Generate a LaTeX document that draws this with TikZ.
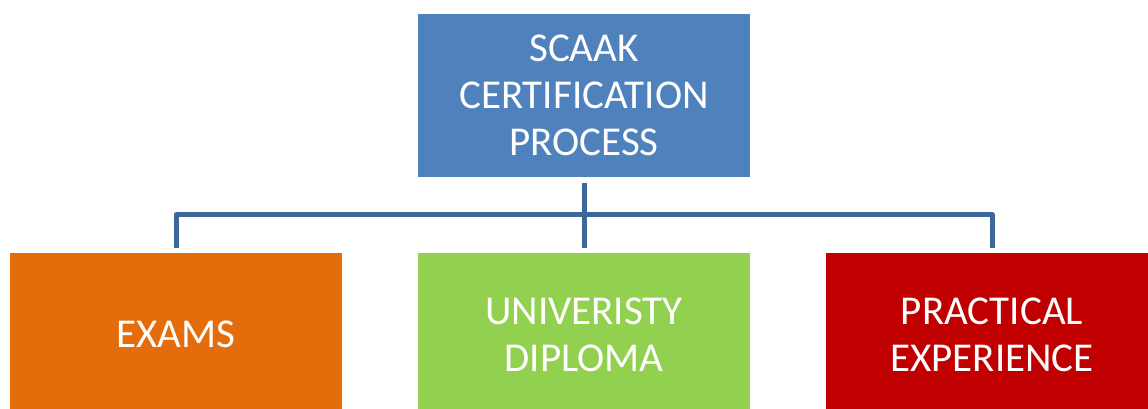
\documentclass[tikz,border=0pt]{standalone}
\usepackage{fontspec}
\setmainfont{Carlito}
\usetikzlibrary{positioning}
\definecolor{topblue}{HTML}{4F81BD}
\definecolor{linkblue}{HTML}{3D6699}
\definecolor{exorange}{HTML}{E46C0A}
\definecolor{dipgreen}{HTML}{92D050}
\definecolor{pracred}{HTML}{C00000}

\begin{document}
\begin{tikzpicture}[x=1pt, y=-1pt]
      \tikzstyle{every node}=[font=\fontsize{41}{47}\selectfont, text=white, align=center]
      \tikzstyle{box}=[rectangle, inner sep=0pt, minimum width=332pt, minimum height=163pt]
      \tikzstyle{conn}=[draw=linkblue, line width=5pt, line join=round]
      %%
      \clip (0,0) rectangle (1148,408);
  \node (scaak) at (584,95.5) [box, fill=topblue] {SCAAK\\CERTIFICATION\\PROCESS};
  \node (exams) at (176,334.5) [box, fill=exorange] {EXAMS};
  \node (diploma) at (584,334.5) [box, fill=dipgreen] {UNIVERISTY\\DIPLOMA};
  \node (practice) at (992,334.5) [box, fill=pracred] {PRACTICAL\\EXPERIENCE};
  \draw [conn, shorten <=6pt, shorten >=5pt] (scaak) -- (diploma);
  \draw [conn, shorten <=5pt, shorten >=5pt] (exams.north) -- ++(0,-38) -| (practice.north);
%

    \end{tikzpicture}
\end{document}
